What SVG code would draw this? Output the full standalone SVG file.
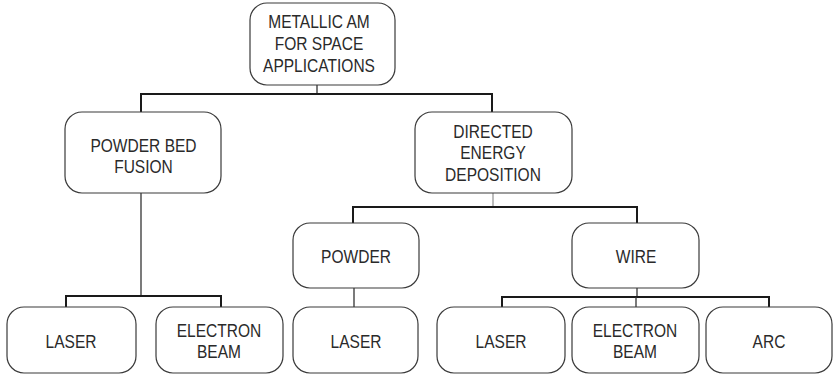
<svg xmlns="http://www.w3.org/2000/svg" width="834" height="377" viewBox="0 0 834 377">
  <style>
    .box { fill: #ffffff; stroke: #3a3a3a; stroke-width: 1.2; }
    .lbl { font-family: "Liberation Sans", Arial, sans-serif; font-size: 18.5px; fill: #2a2a2a; text-anchor: middle; }
    .bus { fill: none; stroke: #1a1a1a; stroke-width: 2; }
    .stem { fill: none; stroke: #333333; stroke-width: 1.3; }
  </style>
  <rect width="834" height="377" fill="#ffffff"/>

  <!-- connectors -->
  <g id="connectors">
    <path class="stem" d="M317 85 V94"/>
    <path class="bus" d="M141 112 V94 H492 V112"/>
    <path class="stem" d="M141 193 V296"/>
    <path class="bus" d="M66 307 V296 H221 V307"/>
    <path class="stem" d="M493 193 V207" stroke-opacity="0.5"/>
    <path class="bus" d="M353 223 V207 H637 V223"/>
    <path class="stem" d="M354 288 V307"/>
    <path class="stem" d="M637 288 V297"/>
    <path class="bus" d="M502 307 V297 H769 V307"/>
    <path class="stem" d="M636 297 V307"/>
  </g>

  <!-- root -->
  <g id="metallic-am">
    <rect class="box" x="250" y="3" width="145" height="82" rx="17"/>
    <text class="lbl" transform="translate(319 27.5) scale(0.84 1)">METALLIC AM</text>
    <text class="lbl" transform="translate(319 49.5) scale(0.84 1)">FOR SPACE</text>
    <text class="lbl" transform="translate(319 72) scale(0.84 1)">APPLICATIONS</text>
  </g>

  <g id="powder-bed-fusion">
    <rect class="box" x="65" y="112" width="156" height="81" rx="17"/>
    <text class="lbl" transform="translate(143.5 152) scale(0.84 1)">POWDER BED</text>
    <text class="lbl" transform="translate(143.5 173) scale(0.84 1)">FUSION</text>
  </g>

  <g id="directed-energy-deposition">
    <rect class="box" x="415" y="112" width="157" height="81" rx="17"/>
    <text class="lbl" transform="translate(493 137.5) scale(0.84 1)">DIRECTED</text>
    <text class="lbl" transform="translate(493 159) scale(0.84 1)">ENERGY</text>
    <text class="lbl" transform="translate(493 180.5) scale(0.84 1)">DEPOSITION</text>
  </g>

  <g id="powder">
    <rect class="box" x="293" y="223" width="126" height="65" rx="17"/>
    <text class="lbl" transform="translate(356 263) scale(0.84 1)">POWDER</text>
  </g>

  <g id="wire">
    <rect class="box" x="572" y="223" width="127" height="65" rx="17"/>
    <text class="lbl" transform="translate(636 263) scale(0.84 1)">WIRE</text>
  </g>

  <g id="pbf-laser">
    <rect class="box" x="7" y="307" width="129" height="66" rx="17"/>
    <text class="lbl" transform="translate(71 348) scale(0.84 1)">LASER</text>
  </g>

  <g id="pbf-electron-beam">
    <rect class="box" x="156" y="307" width="127" height="66" rx="17"/>
    <text class="lbl" transform="translate(219 336.5) scale(0.84 1)">ELECTRON</text>
    <text class="lbl" transform="translate(219 357.5) scale(0.84 1)">BEAM</text>
  </g>

  <g id="powder-laser">
    <rect class="box" x="293" y="307" width="125" height="66" rx="17"/>
    <text class="lbl" transform="translate(356 348) scale(0.84 1)">LASER</text>
  </g>

  <g id="wire-laser">
    <rect class="box" x="437" y="307" width="128" height="66" rx="17"/>
    <text class="lbl" transform="translate(501 348) scale(0.84 1)">LASER</text>
  </g>

  <g id="wire-electron-beam">
    <rect class="box" x="572" y="307" width="127" height="66" rx="17"/>
    <text class="lbl" transform="translate(635 336.5) scale(0.84 1)">ELECTRON</text>
    <text class="lbl" transform="translate(635 357.5) scale(0.84 1)">BEAM</text>
  </g>

  <g id="arc">
    <rect class="box" x="706" y="307" width="126" height="66" rx="17"/>
    <text class="lbl" transform="translate(769 348) scale(0.84 1)">ARC</text>
  </g>
</svg>
